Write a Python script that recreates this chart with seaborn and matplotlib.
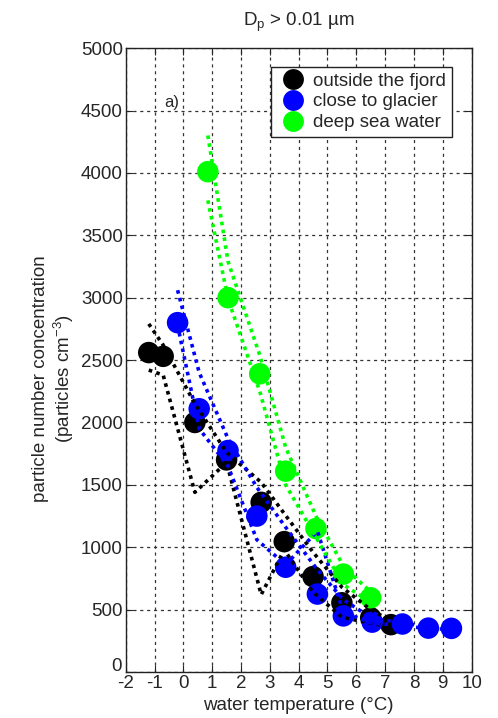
import matplotlib
matplotlib.use("Agg")
import matplotlib.pyplot as plt
import matplotlib.transforms as mtransforms
import numpy as np
import pandas as pd
import seaborn as sns

# --- measurements -------------------------------------------------------
# outside the fjord
out_t = [-1.2, -0.7, 0.4, 1.5, 2.7, 3.5, 4.5, 5.5, 6.5, 7.2]
out_n = [2560, 2530, 2000, 1700, 1360, 1045, 765, 555, 435, 380]
out_hi = [2790, 2620, 2150, 1760, 1520, 1270, 960, 680, 500, 410]
out_lo = [2420, 2380, 1440, 1680, 620, 980, 640, 440, 390, 360]

# close to glacier
gla_t = [-0.2, 0.55, 1.55, 2.55, 3.55, 4.65, 5.55, 6.55, 7.6, 8.5, 9.3]
gla_n = [2800, 2110, 1775, 1250, 840, 625, 450, 400, 385, 352, 350]
gla_hi = [3060, 2400, 1870, 1480, 1160, 820, 580, 430, 395, 360, 355]
gla_lo = [2780, 1950, 1650, 1060, 860, 1130, 480, 390, 375, 345, 345]

# deep sea water
sea_t = [0.85, 1.55, 2.65, 3.55, 4.6, 5.55, 6.5]
sea_n = [4010, 3000, 2390, 1610, 1150, 785, 595]
sea_hi = [4300, 3290, 2540, 1800, 1250, 850, 640]
sea_lo = [3780, 2990, 2250, 1500, 1080, 700, 560]

labels = ["outside the fjord", "close to glacier", "deep sea water"]
colors = ["#000000", "#0000ff", "#00ff00"]

x_ticks = list(range(-2, 11))
y_ticks = list(range(0, 5001, 500))

# --- style --------------------------------------------------------------
sns.set_style("white")
plt.rcParams["font.family"] = ["Liberation Sans", "DejaVu Sans"]
plt.rcParams["mathtext.fontset"] = "custom"
plt.rcParams["mathtext.rm"] = "Liberation Sans"
plt.rcParams["mathtext.it"] = "Liberation Sans"

FS = 13.5

fig = plt.figure(figsize=(4.98, 7.18), dpi=100)
ax = fig.add_axes([0.2524, 0.064, 0.6946, 0.869])

series = [
    (out_t, out_n, out_hi, out_lo),
    (gla_t, gla_n, gla_hi, gla_lo),
    (sea_t, sea_n, sea_hi, sea_lo),
]

frames = []
for (t, n, hi, lo), lab in zip(series, labels):
    frames.append(pd.DataFrame({"t": t, "n": n, "hi": hi, "lo": lo, "site": lab}))
df = pd.concat(frames, ignore_index=True)
palette = dict(zip(labels, colors))

# mean values as filled circles
sns.scatterplot(data=df, x="t", y="n", hue="site", palette=palette,
                s=240, edgecolor="none", linewidth=0, ax=ax, zorder=3,
                legend=False)

# dotted envelopes
for lab in labels:
    sub = df[df["site"] == lab]
    for col in ("hi", "lo"):
        sns.lineplot(x=sub["t"].to_numpy(), y=sub[col].to_numpy(),
                     color=palette[lab], linestyle=(0, (1, 1.2)),
                     linewidth=2.6, estimator=None, sort=False,
                     ax=ax, zorder=4)

ax.set_xlim(-2, 10)
ax.set_ylim(0, 5000)
ax.set_xticks(x_ticks)
ax.set_yticks(y_ticks)
ax.set_xticklabels([str(v) for v in x_ticks], fontsize=FS)
# the "0" of the y axis is drawn separately, lifted above the x labels
ax.set_yticklabels([("" if v == 0 else str(v)) for v in y_ticks], fontsize=FS)
zero_off = mtransforms.ScaledTranslation(-3 / 72, 4 / 72, fig.dpi_scale_trans)
ax.text(0, y_ticks[0], "0", fontsize=FS, ha="right", va="center",
        transform=ax.get_yaxis_transform() + zero_off)

ax.grid(True, color="#333333", linestyle=(0, (2.5, 3)), linewidth=0.9)
ax.set_axisbelow(True)
ax.tick_params(direction="in", length=5, width=0.8, top=True, right=True,
               bottom=True, left=True, pad=2)
for sp in ax.spines.values():
    sp.set_color("#222222")
    sp.set_linewidth(1.0)

ax.set_xlabel("water temperature (°C)", fontsize=FS, labelpad=4)
ax.set_ylabel("particle number concentration\n(particles cm$^{-3}$)",
              fontsize=FS, linespacing=1.15)
ax.yaxis.set_label_coords(-0.145, 0.47)
ax.set_title("D$_{\\mathregular{p}}$ > 0.01 µm", fontsize=FS, pad=16)

ax.text(-0.65, 4530, "a)", fontsize=12, va="baseline", ha="left")

handles = [plt.Line2D([], [], marker="o", linestyle="none", markersize=15,
                      markerfacecolor=c, markeredgecolor="none") for c in colors]
leg = ax.legend(handles, labels, loc="upper right", fontsize=FS,
                frameon=True, fancybox=False, edgecolor="#222222",
                framealpha=1, handletextpad=0.25, borderpad=0.3,
                labelspacing=0.2, handlelength=1.7,
                bbox_to_anchor=(0.97, 0.985))
leg.get_frame().set_linewidth(1.0)

fig.savefig("out.png", dpi=100)
